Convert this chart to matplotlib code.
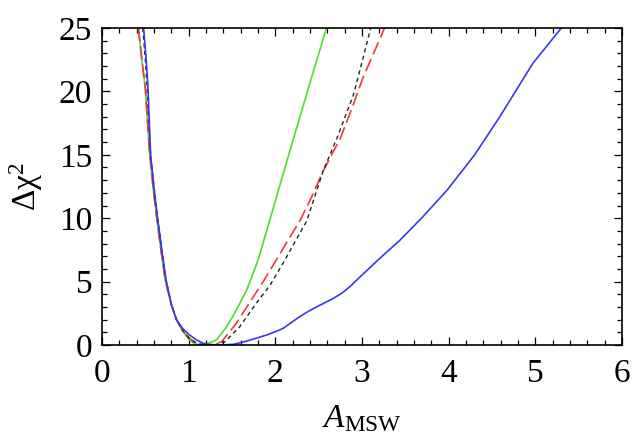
import matplotlib
matplotlib.use('Agg')
import matplotlib.pyplot as plt
from matplotlib.ticker import MultipleLocator

plt.rcParams['font.family'] = 'Liberation Serif'
plt.rcParams['mathtext.fontset'] = 'custom'
plt.rcParams['mathtext.rm'] = 'Liberation Serif'
plt.rcParams['mathtext.it'] = 'Liberation Serif:italic'

# 초록 실선
green_x = [0.42, 0.46, 0.50, 0.55, 0.59, 0.63, 0.68, 0.73, 0.80, 0.86, 0.93, 1.00, 1.07, 1.15,
           1.22, 1.32, 1.44, 1.55, 1.67, 1.73, 1.80, 1.90, 2.01, 2.15, 2.28, 2.44, 2.59]
green_y = [25, 22.5, 20.2, 15.1, 12.4, 10.1, 7.5, 5.1, 3.2, 2.0, 1.1, 0.45, 0.08, 0.0,
           0.12, 0.4, 1.45, 2.76, 4.34, 5.4, 6.7, 9.0, 11.6, 14.9, 17.9, 21.6, 25]

# 빨간 긴 점선
red_x = [0.42, 0.46, 0.50, 0.55, 0.59, 0.63, 0.68, 0.73, 0.80, 0.86, 0.93, 1.01, 1.10, 1.20,
         1.30, 1.38, 1.55, 1.71, 1.86, 2.01, 2.14, 2.28, 2.42, 2.55, 2.75, 2.88, 3.01, 3.14, 3.26]
red_y = [25, 22.5, 20.2, 15.1, 12.4, 10.1, 7.5, 5.1, 3.2, 2.0, 1.15, 0.5, 0.1, 0.0,
         0.05, 0.26, 1.71, 3.42, 5.0, 6.7, 8.2, 9.75, 11.7, 13.7, 16.3, 18.6, 21.06, 23.1, 25]

# 검은 짧은 점선
black_x = [0.47, 0.50, 0.52, 0.56, 0.60, 0.64, 0.69, 0.74, 0.80, 0.86, 0.93, 1.01, 1.10, 1.20,
           1.30, 1.42, 1.59, 1.78, 1.94, 2.11, 2.24, 2.36, 2.46, 2.55, 2.71, 2.90, 3.00, 3.10]
black_y = [25, 22.5, 20.4, 15.1, 12.4, 10.1, 7.5, 5.1, 3.2, 2.0, 1.15, 0.5, 0.1, 0.0,
           0.02, 0.26, 1.45, 3.29, 4.73, 6.7, 8.3, 9.75, 11.8, 13.7, 16.3, 19.7, 22.3, 25]

# 파란 실선
blue_x = [0.48, 0.51, 0.53, 0.56, 0.60, 0.64, 0.69, 0.74, 0.80, 0.86, 0.93, 1.01, 1.09, 1.17,
          1.28, 1.40, 1.51, 1.61, 1.71, 1.80, 1.90, 2.00, 2.09, 2.18, 2.28, 2.38, 2.48, 2.57,
          2.67, 2.77, 2.86, 2.98, 3.20, 3.44, 3.70, 3.98, 4.30, 4.59, 4.97, 5.30]
blue_y = [25, 22.5, 20.4, 15.1, 12.4, 10.1, 7.5, 5.1, 3.2, 1.97, 1.3, 0.79, 0.4, 0.13,
          0.0, 0.01, 0.05, 0.2, 0.39, 0.58, 0.79, 1.05, 1.31, 1.75, 2.23, 2.65, 3.02, 3.33,
          3.68, 4.1, 4.6, 5.39, 6.8, 8.28, 10.1, 12.2, 15.0, 18.0, 22.2, 25]

fig = plt.figure(figsize=(6.34, 4.37), dpi=100)
ax = fig.add_axes([102/634, 1 - 345/437, 520/634, 317/437])

ax.plot(green_x, green_y, color='#4ce02a', lw=1.2)
ax.plot(red_x, red_y, color='#f03a3a', lw=1.2, dashes=(8, 3))
ax.plot(black_x, black_y, color='#222222', lw=1.0, dashes=(3, 2.5))
ax.plot(blue_x, blue_y, color='#3838f0', lw=1.2)

ax.set_xlim(0, 6)
ax.set_ylim(0, 25)
ax.xaxis.set_major_locator(MultipleLocator(1))
ax.xaxis.set_minor_locator(MultipleLocator(0.2))
ax.yaxis.set_major_locator(MultipleLocator(5))
ax.yaxis.set_minor_locator(MultipleLocator(1))
ax.tick_params(which='both', direction='in', top=True, right=True, width=0.9)
ax.tick_params(which='major', length=6, labelsize=24)
ax.tick_params(which='minor', length=3.5)
ax.tick_params(axis='x', pad=10)
ax.tick_params(axis='y', pad=7)
for s in ax.spines.values():
    s.set_linewidth(1.2)

ax.set_xlabel(r'$A_{\mathrm{MSW}}$', fontsize=24, labelpad=10)
ax.set_ylabel(r'$\mathrm{\Delta\chi}^{2}$', fontsize=24, labelpad=10)

plt.savefig('out.png', dpi=100)
